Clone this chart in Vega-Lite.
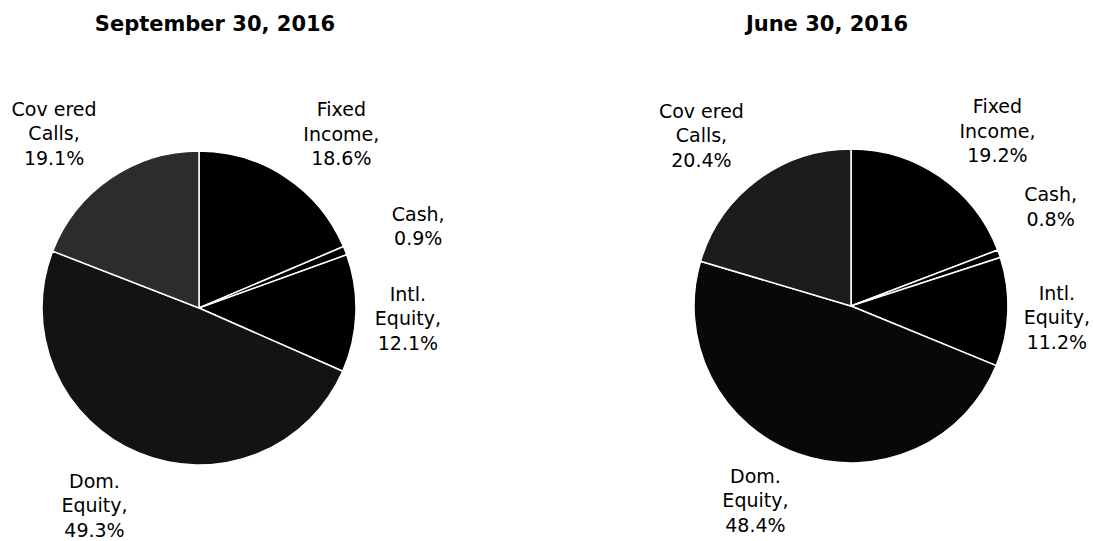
{
  "$schema": "https://vega.github.io/schema/vega-lite/v6.json",
  "padding": {"left": 0, "top": 14, "right": 0, "bottom": 0},
  "background": "white",
  "spacing": 254,
  "bounds": "flush",
  "config": {"view": {"stroke": null}, "text": {"font": "DejaVu Sans", "fontSize": 19, "lineHeight": 24.5, "color": "black", "lineBreak": "\n", "align": "center", "baseline": "middle"}},
  "datasets": {
    "sep": [
      {"asset": "Fixed Income", "pct": 18.6, "k": 1, "label": "Fixed\nIncome,\n18.6%"},
      {"asset": "Cash", "pct": 0.9, "k": 2, "label": "Cash,\n0.9%"},
      {"asset": "Intl. Equity", "pct": 12.1, "k": 3, "label": "Intl.\nEquity,\n12.1%"},
      {"asset": "Dom. Equity", "pct": 49.3, "k": 4, "label": "Dom.\nEquity,\n49.3%"},
      {"asset": "Covered Calls", "pct": 19.1, "k": 5, "label": "Cov ered\nCalls,\n19.1%"}
    ],
    "jun": [
      {"asset": "Fixed Income", "pct": 19.2, "k": 1, "label": "Fixed\nIncome,\n19.2%"},
      {"asset": "Cash", "pct": 0.8, "k": 2, "label": "Cash,\n0.8%"},
      {"asset": "Intl. Equity", "pct": 11.2, "k": 3, "label": "Intl.\nEquity,\n11.2%"},
      {"asset": "Dom. Equity", "pct": 48.4, "k": 4, "label": "Dom.\nEquity,\n48.4%"},
      {"asset": "Covered Calls", "pct": 20.4, "k": 5, "label": "Cov ered\nCalls,\n20.4%"}
    ]
  },
  "resolve": {"scale": {"color": "independent", "theta": "independent"}},
  "hconcat": [
    {
      "width": 398, "height": 470,
      "title": {"text": "September 30, 2016", "font": "DejaVu Sans", "fontSize": 21, "fontWeight": "bold", "color": "black", "dx": 16, "offset": 38},
      "data": {"name": "sep"},
      "transform": [
        {"stack": "pct", "groupby": [], "sort": [{"field": "k", "order": "ascending"}], "as": ["p0", "p1"]},
        {"calculate": "(datum.p0 + datum.p1) / 2", "as": "mid"}
      ],
      "layer": [
        {
          "mark": {"type": "arc", "outerRadius": 157, "stroke": "white", "strokeWidth": 1.5},
          "encoding": {
            "theta": {"field": "p0", "type": "quantitative", "stack": null, "scale": {"domain": [0, 100]}},
            "theta2": {"field": "p1"},
            "color": {"field": "asset", "type": "nominal", "legend": null,
              "scale": {"domain": ["Fixed Income", "Cash", "Intl. Equity", "Dom. Equity", "Covered Calls"], "range": ["#000000", "#000000", "#000000", "#131313", "#2c2c2c"]}}
          }
        },
        {"transform": [{"filter": "datum.asset == 'Fixed Income'"}], "mark": {"type": "text", "radius": 200, "dx": 32, "dy": -31},
          "encoding": {"theta": {"field": "mid", "type": "quantitative", "stack": null}, "text": {"field": "label"}}},
        {"transform": [{"filter": "datum.asset == 'Cash'"}], "mark": {"type": "text", "radius": 200, "dx": 33, "dy": -20},
          "encoding": {"theta": {"field": "mid", "type": "quantitative", "stack": null}, "text": {"field": "label"}}},
        {"transform": [{"filter": "datum.asset == 'Intl. Equity'"}], "mark": {"type": "text", "radius": 200, "dx": 9, "dy": -20},
          "encoding": {"theta": {"field": "mid", "type": "quantitative", "stack": null}, "text": {"field": "label"}}},
        {"transform": [{"filter": "datum.asset == 'Dom. Equity'"}], "mark": {"type": "text", "radius": 200, "dx": -28, "dy": -11},
          "encoding": {"theta": {"field": "mid", "type": "quantitative", "stack": null}, "text": {"field": "label"}}},
        {"transform": [{"filter": "datum.asset == 'Covered Calls'"}], "mark": {"type": "text", "radius": 200, "dx": -32, "dy": -33},
          "encoding": {"theta": {"field": "mid", "type": "quantitative", "stack": null}, "text": {"field": "label"}}}
      ]
    },
    {
      "width": 398, "height": 466,
      "title": {"text": "June 30, 2016", "font": "DejaVu Sans", "fontSize": 21, "fontWeight": "bold", "color": "black", "dx": -24, "offset": 38},
      "data": {"name": "jun"},
      "transform": [
        {"stack": "pct", "groupby": [], "sort": [{"field": "k", "order": "ascending"}], "as": ["p0", "p1"]},
        {"calculate": "(datum.p0 + datum.p1) / 2", "as": "mid"}
      ],
      "layer": [
        {
          "mark": {"type": "arc", "outerRadius": 157, "stroke": "white", "strokeWidth": 1.5},
          "encoding": {
            "theta": {"field": "p0", "type": "quantitative", "stack": null, "scale": {"domain": [0, 100]}},
            "theta2": {"field": "p1"},
            "color": {"field": "asset", "type": "nominal", "legend": null,
              "scale": {"domain": ["Fixed Income", "Cash", "Intl. Equity", "Dom. Equity", "Covered Calls"], "range": ["#000000", "#000000", "#000000", "#080808", "#1c1c1c"]}}
          }
        },
        {"transform": [{"filter": "datum.asset == 'Fixed Income'"}], "mark": {"type": "text", "radius": 200, "dx": 33, "dy": -34},
          "encoding": {"theta": {"field": "mid", "type": "quantitative", "stack": null}, "text": {"field": "label"}}},
        {"transform": [{"filter": "datum.asset == 'Cash'"}], "mark": {"type": "text", "radius": 200, "dx": 11, "dy": -44},
          "encoding": {"theta": {"field": "mid", "type": "quantitative", "stack": null}, "text": {"field": "label"}}},
        {"transform": [{"filter": "datum.asset == 'Intl. Equity'"}], "mark": {"type": "text", "radius": 200, "dx": 6, "dy": -20},
          "encoding": {"theta": {"field": "mid", "type": "quantitative", "stack": null}, "text": {"field": "label"}}},
        {"transform": [{"filter": "datum.asset == 'Dom. Equity'"}], "mark": {"type": "text", "radius": 200, "dx": -29, "dy": -18},
          "encoding": {"theta": {"field": "mid", "type": "quantitative", "stack": null}, "text": {"field": "label"}}},
        {"transform": [{"filter": "datum.asset == 'Covered Calls'"}], "mark": {"type": "text", "radius": 200, "dx": -30, "dy": -34},
          "encoding": {"theta": {"field": "mid", "type": "quantitative", "stack": null}, "text": {"field": "label"}}}
      ]
    }
  ]
}
